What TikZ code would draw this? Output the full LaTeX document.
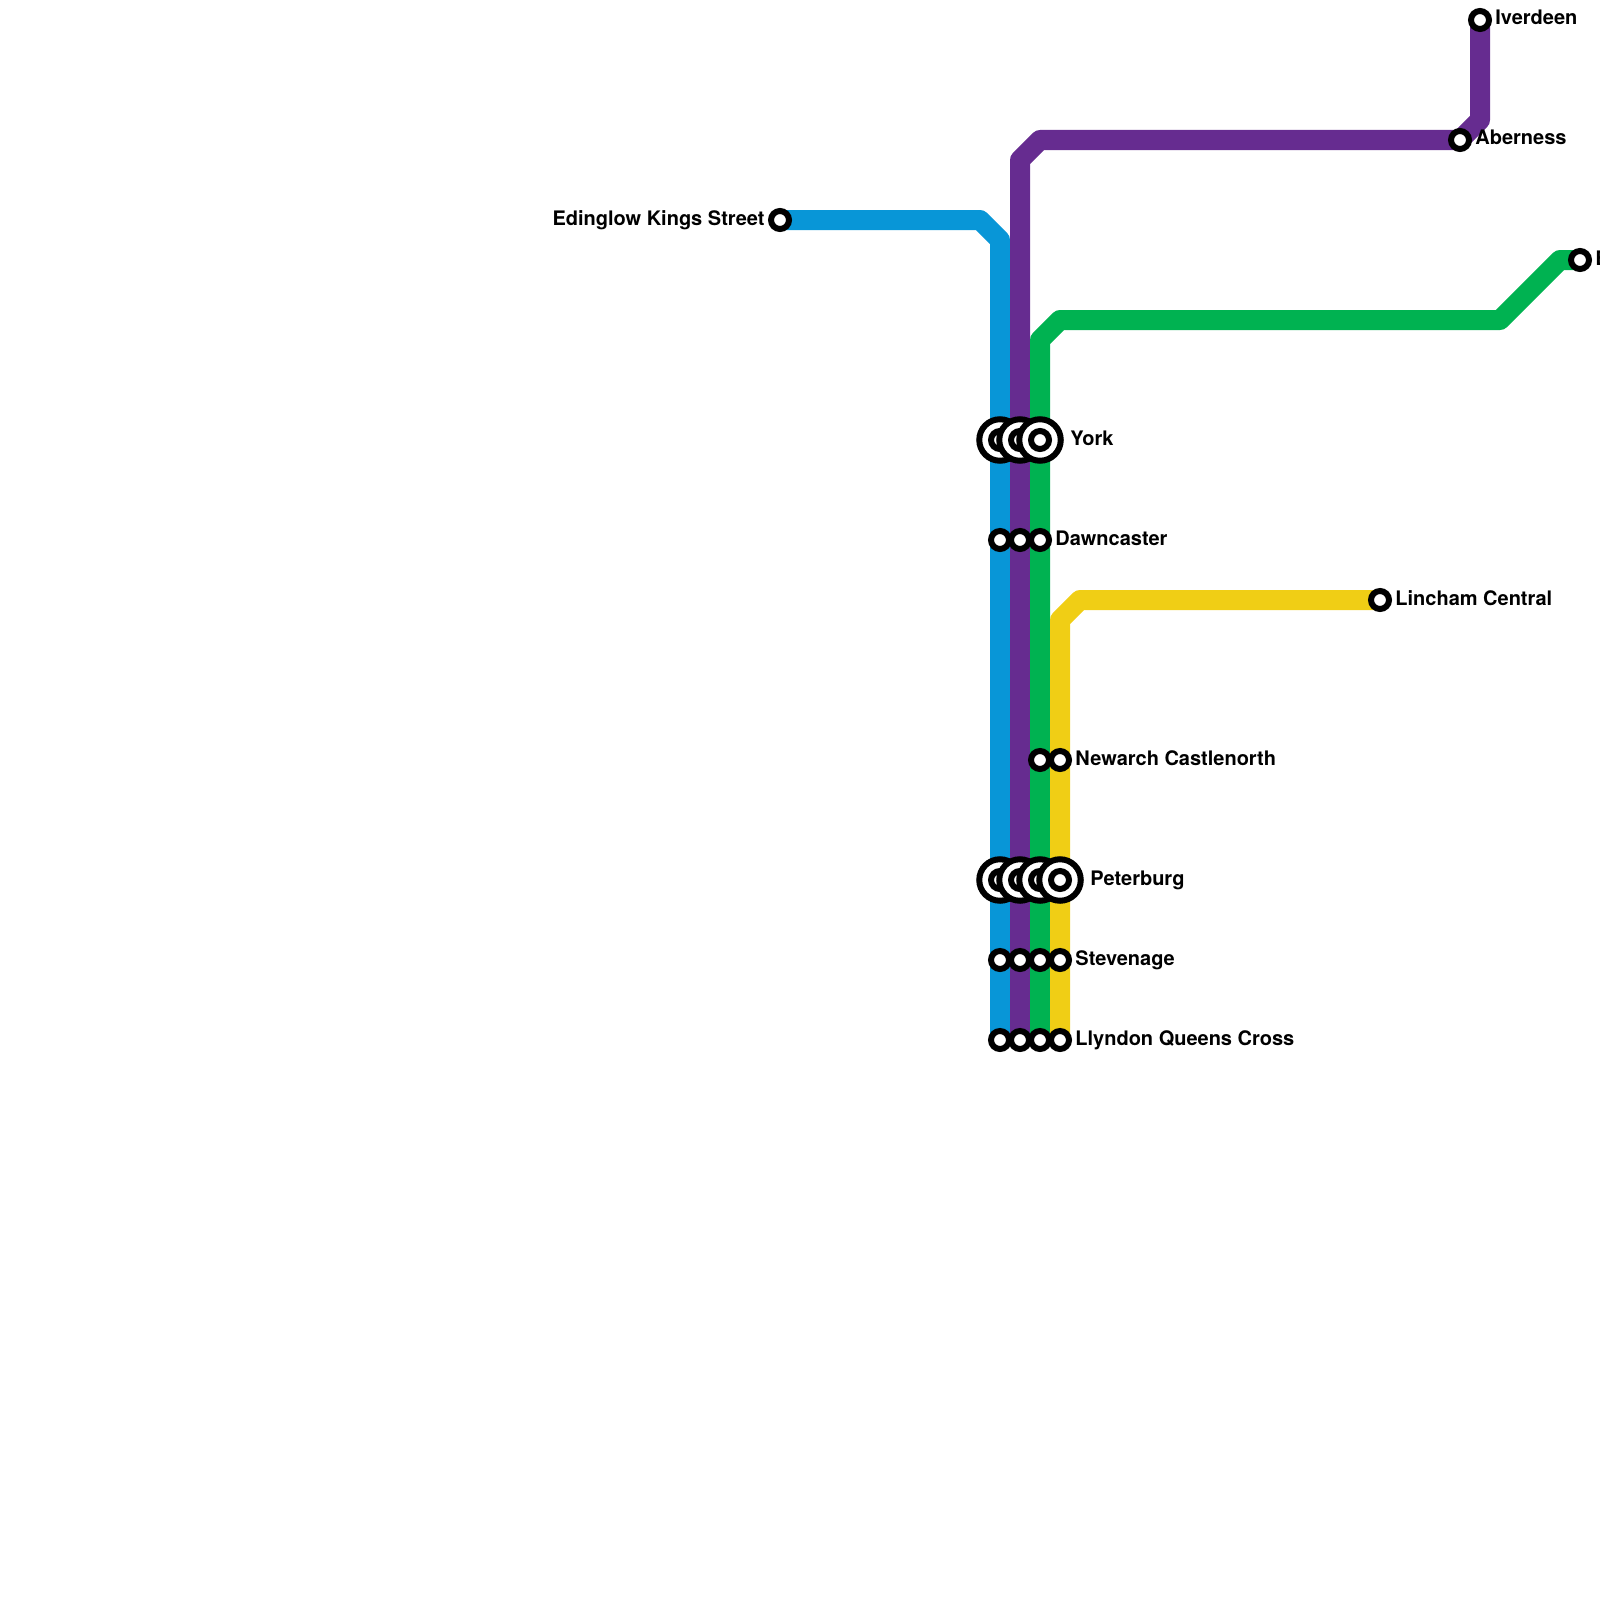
\documentclass[tikz,border=0pt]{standalone}
\usepackage{fontspec}
\setmainfont{TeX Gyre Heros}
\definecolor{lblue}{HTML}{0896D7}
\definecolor{lpurple}{HTML}{662C90}
\definecolor{lgreen}{HTML}{00B251}
\definecolor{lyellow}{HTML}{F0CE15}
\tikzset{
 x=0.5pt,y=-0.5pt,
 line/.style={line width=10pt,line join=round},
 stn/.style={circle,draw=black,fill=white,line width=3pt,minimum size=9pt,inner sep=0pt,outer sep=0pt},
 ic/.style={circle,draw=black,fill=white,line width=3pt,minimum size=20.75pt,inner sep=0pt,outer sep=0pt},
 lab/.style={font=\bfseries\fontsize{10pt}{12pt}\selectfont,inner sep=0pt,text=black},
 lr/.style={lab,anchor=base west},
 ll/.style={lab,anchor=base east},
}
\begin{document}
\begin{tikzpicture}
\useasboundingbox (0,0) rectangle (1600,1600);
\clip (0,0) rectangle (1600,1600);
\coordinate (e) at (780,220);
\coordinate (b1) at (980,220);
\coordinate (b2) at (1000,240);
\coordinate (bE) at (1000,1040);
\coordinate (pE) at (1020,1040);
\coordinate (p1) at (1020,160);
\coordinate (p2) at (1040,140);
\coordinate (ab) at (1460,140);
\coordinate (p3) at (1480,120);
\coordinate (iv) at (1480,20);
\coordinate (gE) at (1040,1040);
\coordinate (g1) at (1040,340);
\coordinate (g2) at (1060,320);
\coordinate (g3) at (1500,320);
\coordinate (g4) at (1560,260);
\coordinate (be) at (1580,260);
\coordinate (yE) at (1060,1040);
\coordinate (y1) at (1060,620);
\coordinate (y2) at (1080,600);
\coordinate (li) at (1380,600);
\draw[line,lblue] (e)--(b1)--(b2)--(bE);
\draw[line,lpurple] (pE)--(p1)--(p2)--(ab)--(p3)--(iv);
\draw[line,lgreen] (gE)--(g1)--(g2)--(g3)--(g4)--(be);
\draw[line,lyellow] (yE)--(y1)--(y2)--(li);
% interchanges
\foreach \n/\x/\y in {ya/1000/440,yb/1020/440,yc/1040/440,pa/1000/880,pb/1020/880,pc/1040/880,pd/1060/880}{
  \node[ic] (\n) at (\x,\y) {};
  \node[stn] (\n i) at (\x,\y) {};
}
\foreach \n/\x/\y in {da/1000/540,db/1020/540,dc/1040/540,
 na/1040/760,nb/1060/760,
 sa/1000/960,sb/1020/960,sc/1040/960,sd/1060/960,
 la/1000/1040,lb/1020/1040,lc/1040/1040,ld/1060/1040,
 ed/780/220,abn/1460/140,ivn/1480/20,ben/1580/260,lin/1380/600}{
  \node[stn] (\n) at (\x,\y) {};
}
\node[ll] (tE) at (765,225) {Edinglow Kings Street};
\node[lr] (tY) at (1070,445) {York};
\node[lr] (tD) at (1055,545) {Dawncaster};
\node[lr] (tL) at (1395,605) {Lincham Central};
\node[lr] (tN) at (1075,765) {Newarch Castlenorth};
\node[lr] (tP) at (1090,885) {Peterburg};
\node[lr] (tS) at (1075,965) {Stevenage};
\node[lr] (tQ) at (1075,1045) {Llyndon Queens Cross};
\node[lr] (tA) at (1475,145) {Aberness};
\node[lr] (tI) at (1495,25) {Iverdeen};
\node[lr] (tB) at (1595,265) {B};
\end{tikzpicture}
\end{document}
